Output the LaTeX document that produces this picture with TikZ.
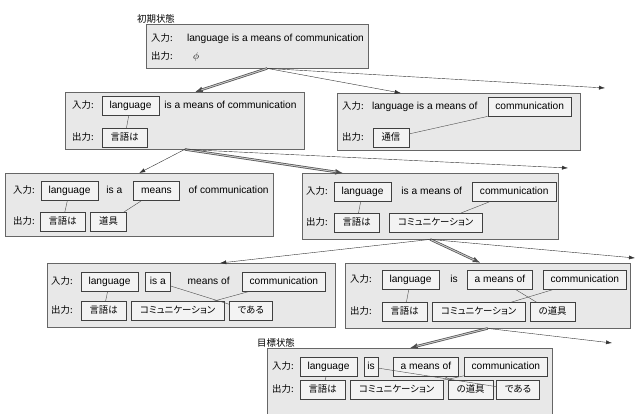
\documentclass[tikz,border=0pt]{standalone}
\usepackage{fontspec}
\setmainfont{Liberation Sans}
\newfontfamily\jp[RawFeature=+palt]{Noto Sans CJK JP}
\usetikzlibrary{arrows.meta,positioning,calc}
\definecolor{statefill}{RGB}{232,232,232}
\definecolor{wordfill}{RGB}{243,243,243}
\newcommand{\txtsize}{\fontsize{10.2}{12}\selectfont}
\newcommand{\jpsize}{\fontsize{9.4}{11}\selectfont}
\tikzset{
  statebox/.style={rectangle, draw=black!60, fill=statefill, anchor=north west, inner sep=0pt},
  word/.style={rectangle, draw=black!75, fill=wordfill, inner xsep=7.5pt, inner ysep=0pt,
    minimum height=19pt, text height=7.5pt, text depth=2pt, font=\txtsize},
  jword/.style={word, inner xsep=8.5pt, font=\jpsize\jp},
  txt/.style={inner sep=0pt, text height=7.5pt, text depth=2pt, font=\txtsize},
  rowlbl/.style={txt, anchor=west, font=\jpsize\jp},
  statetitle/.style={inner sep=0pt, anchor=south west, font=\jpsize\jp},
  link/.style={draw=black!70, thin},
  move/.style={-{Latex[length=6pt,width=4pt]}, draw=black!80, thin},
  best/.style={-{Latex[length=8pt,width=6pt]}, draw=black!70, line width=2.4pt,
    postaction={draw=gray!45, line width=1pt, -, shorten >=7pt, shorten <=0.5pt}},
}

\begin{document}
\begin{tikzpicture}[x=1pt, y=-1pt, node distance=6pt]
\useasboundingbox (0,0) rectangle (636,414);
\clip (0,0) rectangle (636,414);

% initial state
\node[statebox, minimum width=222pt, minimum height=44pt] (S0) at (146,24) {};
\node[statetitle] (t0) at ($(S0.north west)+(-9,-1)$) {初期状態};
\node[rowlbl] (s0i) at ($(S0.north west)+(5,15)$) {入力:};
\node[rowlbl] (s0o) at ($(S0.north west)+(5,33)$) {出力:};
\node[txt, right=14pt of s0i] (s0txt) {language is a means of communication};
\node[txt, right=20pt of s0o] (s0phi) {$\phi$};

% level 1
\node[statebox, minimum width=239pt, minimum height=57pt] (A1) at (65,92) {};
\node[rowlbl] (a1i) at ($(A1.north west)+(7,14)$) {入力:};
\node[rowlbl] (a1o) at ($(A1.north west)+(7,46)$) {出力:};
\node[word, right=8pt of a1i] (a1lang) {language};
\node[txt, right=5pt of a1lang] (a1rest) {is a means of communication};
\node[jword, right=8pt of a1o] (a1gengo) {言語は};
\draw[link] (a1lang) -- (a1gengo);

\node[statebox, minimum width=243pt, minimum height=57pt] (A2) at (337,93) {};
\node[rowlbl] (a2i) at ($(A2.north west)+(5,14)$) {入力:};
\node[rowlbl] (a2o) at ($(A2.north west)+(5,45)$) {出力:};
\node[txt, right=8pt of a2i] (a2txt) {language is a means of};
\node[word, right=10pt of a2txt] (a2comm) {communication};
\node[jword, right=9pt of a2o] (a2tsu) {通信};
\draw[link] (a2comm) -- (a2tsu);

% level 2
\node[statebox, minimum width=268pt, minimum height=63pt] (B1) at (5,173) {};
\node[rowlbl] (b1i) at ($(B1.north west)+(8,18)$) {入力:};
\node[rowlbl] (b1o) at ($(B1.north west)+(8,49)$) {出力:};
\node[word, right=6pt of b1i] (b1lang) {language};
\node[txt, right=8pt of b1lang] (b1isa) {is a};
\node[word, right=11pt of b1isa] (b1means) {means};
\node[txt, right=9pt of b1means] (b1rest) {of communication};
\node[jword, right=5pt of b1o] (b1gengo) {言語は};
\node[jword, right=5pt of b1gengo] (b1dougu) {道具};
\draw[link] (b1lang) -- (b1gengo);
\draw[link] (b1means) -- (b1dougu);

\node[statebox, minimum width=256pt, minimum height=66pt] (B2) at (302,173) {};
\node[rowlbl] (b2i) at ($(B2.north west)+(4,19)$) {入力:};
\node[rowlbl] (b2o) at ($(B2.north west)+(4,50)$) {出力:};
\node[word, right=6pt of b2i] (b2lang) {language};
\node[txt, right=10pt of b2lang] (b2mid) {is a means of};
\node[word, right=10pt of b2mid] (b2comm) {communication};
\node[jword, right=6pt of b2o] (b2gengo) {言語は};
\node[jword, right=10pt of b2gengo] (b2komyu) {コミュニケーション};
\draw[link] (b2lang) -- (b2gengo);
\draw[link] (b2comm) -- (b2komyu);

% level 3
\node[statebox, minimum width=288pt, minimum height=64pt] (C1) at (47,263) {};
\node[rowlbl] (c1i) at ($(C1.north west)+(4,19)$) {入力:};
\node[rowlbl] (c1o) at ($(C1.north west)+(4,48)$) {出力:};
\node[word, right=8pt of c1i] (c1lang) {language};
\node[word, inner xsep=4.5pt, right=7pt of c1lang] (c1isa) {is a};
\node[txt, right=17pt of c1isa] (c1means) {means of};
\node[word, right=12pt of c1means] (c1comm) {communication};
\node[jword, right=8pt of c1o] (c1gengo) {言語は};
\node[jword, right=5pt of c1gengo] (c1komyu) {コミュニケーション};
\node[jword, right=5pt of c1komyu] (c1dearu) {である};
\draw[link] (c1lang) -- (c1gengo);
\draw[link] (c1isa) -- (c1dearu);
\draw[link] (c1comm) -- (c1komyu);

\node[statebox, minimum width=285pt, minimum height=65pt] (C2) at (345,263) {};
\node[rowlbl] (c2i) at ($(C2.north west)+(5,17)$) {入力:};
\node[rowlbl] (c2o) at ($(C2.north west)+(5,49)$) {出力:};
\node[word, right=10pt of c2i] (c2lang) {language};
\node[txt, right=11pt of c2lang] (c2is) {is};
\node[word, right=9pt of c2is] (c2means) {a means of};
\node[word, right=10pt of c2means] (c2comm) {communication};
\node[jword, right=10pt of c2o] (c2gengo) {言語は};
\node[jword, right=5pt of c2gengo] (c2komyu) {コミュニケーション};
\node[jword, right=5pt of c2komyu] (c2dougu) {の道具};
\draw[link] (c2lang) -- (c2gengo);
\draw[link] (c2means) -- (c2dougu);
\draw[link] (c2comm) -- (c2komyu);

% goal state
\node[statebox, minimum width=285pt, minimum height=90pt] (G) at (267,348) {};
\node[statetitle] (tg) at ($(G.north west)+(-10,-1)$) {目標状態};
\node[rowlbl] (gi) at ($(G.north west)+(5,19)$) {入力:};
\node[rowlbl] (go) at ($(G.north west)+(5,42)$) {出力:};
\node[word, right=6pt of gi] (glang) {language};
\node[word, inner xsep=3pt, right=7pt of glang] (gis) {is};
\node[word, right=15pt of gis] (gmeans) {a means of};
\node[word, right=5pt of gmeans] (gcomm) {communication};
\node[jword, right=6pt of go] (ggengo) {言語は};
\node[jword, right=5pt of ggengo] (gkomyu) {コミュニケーション};
\node[jword, right=5pt of gkomyu] (gdougu) {の道具};
\node[jword, right=3pt of gdougu] (gdearu) {である};
\draw[link] (glang) -- (ggengo);
\draw[link] (gis) -- (gdearu);
\draw[link] (gmeans) -- (gdougu);
\draw[link] (gcomm) -- (gkomyu);

% search moves
\coordinate (s0x) at (605,88);
\coordinate (a1x) at (568,168);
\coordinate (b2x) at (635,258);
\coordinate (c2x) at (612,343);
\draw[best] ([xshift=10pt]S0.south) -- ([xshift=10pt]A1.north);
\draw[move] ([xshift=10pt]S0.south) -- ([xshift=-58pt]A2.north);
\draw[move] ([xshift=10pt]S0.south) -- (s0x);
\draw[move] (A1.south) -- (B1.north);
\draw[best] (A1.south) -- ([xshift=-87pt]B2.north);
\draw[move] (A1.south) -- (a1x);
\draw[move] (B2.south) -- ([xshift=29pt]C1.north);
\draw[best] (B2.south) -- ([xshift=-7pt]C2.north);
\draw[move] (B2.south) -- (b2x);
\draw[best] (C2.south) -- (G.north);
\draw[move] (C2.south) -- (c2x);

\end{tikzpicture}
\end{document}
